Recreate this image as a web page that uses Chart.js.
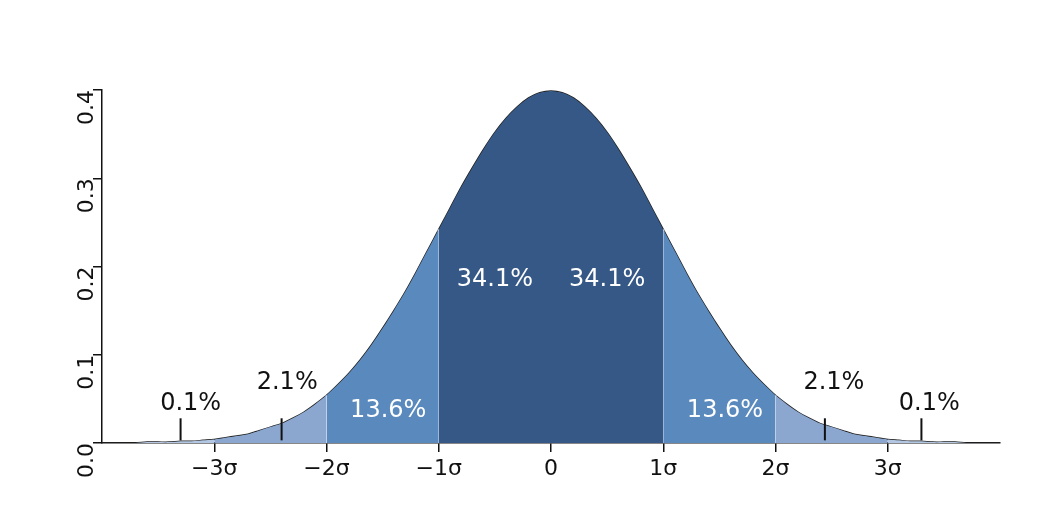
<!DOCTYPE html>
<html><head><meta charset="utf-8">
<script src="https://cdn.jsdelivr.net/npm/chart.js@4"></script>
<style>html,body{margin:0;padding:0;background:#fff}#w{width:1061px;height:520px}</style>
</head><body><div id="w"><canvas id="c"></canvas></div>
<script>
// density read at x = -4.0 ... 4.0 step 0.1
const xValues = [-4.0,-3.9,-3.8,-3.7,-3.6,-3.5,-3.4,-3.3,-3.2,-3.1,-3.0,-2.9,-2.8,-2.7,-2.6,-2.5,-2.4,-2.3,-2.2,-2.1,-2.0,-1.9,-1.8,-1.7,-1.6,-1.5,-1.4,-1.3,-1.2,-1.1,-1.0,-0.9,-0.8,-0.7,-0.6,-0.5,-0.4,-0.3,-0.2,-0.1,0.0,0.1,0.2,0.3,0.4,0.5,0.6,0.7,0.8,0.9,1.0,1.1,1.2,1.3,1.4,1.5,1.6,1.7,1.8,1.9,2.0,2.1,2.2,2.3,2.4,2.5,2.6,2.7,2.8,2.9,3.0,3.1,3.2,3.3,3.4,3.5,3.6,3.7,3.8,3.9,4.0];
const density = [0.000,0.000,0.000,0.000,0.001,0.001,0.001,0.002,0.002,0.003,0.004,0.006,0.008,0.010,0.014,0.018,0.022,0.028,0.035,0.044,0.054,0.066,0.079,0.094,0.111,0.130,0.150,0.171,0.194,0.218,0.242,0.266,0.290,0.312,0.333,0.352,0.368,0.381,0.391,0.397,0.399,0.397,0.391,0.381,0.368,0.352,0.333,0.312,0.290,0.266,0.242,0.218,0.194,0.171,0.150,0.130,0.111,0.094,0.079,0.066,0.054,0.044,0.035,0.028,0.022,0.018,0.014,0.010,0.008,0.006,0.004,0.003,0.002,0.002,0.001,0.001,0.001,0.000,0.000,0.000,0.000];
const regionBounds = [[-4,-3],[-3,-2],[-2,-1],[-1,0],[0,1],[1,2],[2,3],[3,4]];
const regionColors = ['#b3c7e3','#8ba7d0','#5a89bd','#355886','#355886','#5a89bd','#8ba7d0','#b3c7e3'];
const separators = [-2,-1,0,1,2];
const xTickLabels = {'-3':'−3σ','-2':'−2σ','-1':'−1σ','0':'0','1':'1σ','2':'2σ','3':'3σ'};
const whiteLabels = [{t:'34.1%',x:-0.5,y:0.185},{t:'34.1%',x:0.5,y:0.185},{t:'13.6%',x:-1.45,y:0.037},{t:'13.6%',x:1.55,y:0.037}];
const blackLabels = [{t:'2.1%',x:-2.35,y:0.068,mx:-2.4},{t:'0.1%',x:-3.21,y:0.045,mx:-3.3},{t:'2.1%',x:2.52,y:0.068,mx:2.44},{t:'0.1%',x:3.37,y:0.045,mx:3.3}];

const pts = xValues.map((x,i)=>({x, y: density[i]}));
const datasets = [];
regionBounds.forEach((b,i)=>{
  datasets.push({data: pts.filter(p=>p.x>=b[0]-1e-9 && p.x<=b[1]+1e-9), fill:'origin',
    backgroundColor: regionColors[i], borderWidth:0, pointRadius:0, tension:0.3});
});
separators.forEach(s=>{
  const y = density[xValues.findIndex(x=>Math.abs(x-s)<1e-9)];
  datasets.push({data:[{x:s,y:0},{x:s,y:y}], borderColor:'#fff', borderWidth:2, pointRadius:0, fill:false});
});
datasets.push({data: pts, borderColor:'#222', borderWidth:1.5, pointRadius:0, fill:false, tension:0.3});

const labelPlugin = {id:'lbl', afterDatasetsDraw(ch){
  const c=ch.ctx, xs=ch.scales.x, ys=ch.scales.y;
  c.save(); c.font='24px "DejaVu Sans"'; c.textAlign='center'; c.textBaseline='middle';
  c.fillStyle='#fff';
  whiteLabels.forEach(l=>c.fillText(l.t, xs.getPixelForValue(l.x), ys.getPixelForValue(l.y)));
  c.fillStyle='#111'; c.strokeStyle='#111'; c.lineWidth=2;
  blackLabels.forEach(l=>{
    c.fillText(l.t, xs.getPixelForValue(l.x), ys.getPixelForValue(l.y));
    const px=xs.getPixelForValue(l.mx);
    c.beginPath(); c.moveTo(px, ys.getPixelForValue(0.028)); c.lineTo(px, ys.getPixelForValue(0.003)); c.stroke();
  });
  c.restore();
}};

new Chart(document.getElementById('c'), {
  type:'line', data:{datasets}, plugins:[labelPlugin],
  options:{responsive:true, maintainAspectRatio:false, animation:false,
    layout:{padding:{top:90,right:61,left:0,bottom:0}},
    plugins:{legend:{display:false}, tooltip:{enabled:false}},
    scales:{
      x:{type:'linear', min:-4, max:4,
        afterBuildTicks(s){ s.ticks = Object.keys(xTickLabels).map(v=>({value:+v})); },
        afterFit(s){ s.height = 77; },
        ticks:{callback:v=>xTickLabels[String(v)], font:{size:22, family:'DejaVu Sans'}, color:'#111', maxRotation:0, autoSkip:false, padding:4},
        grid:{drawOnChartArea:false, tickLength:9, color:'#111', lineWidth:1.5},
        border:{display:true, color:'#111', width:1.5}},
      y:{min:0, max:0.4,
        afterFit(s){ s.width = 102; },
        ticks:{stepSize:0.1, callback:v=>v.toFixed(1), font:{size:22, family:'DejaVu Sans'}, color:'#111', minRotation:90, maxRotation:90, padding:6},
        grid:{drawOnChartArea:false, tickLength:9, color:'#111', lineWidth:1.5},
        border:{display:true, color:'#111', width:1.5}}
    }}
});
</script></body></html>
